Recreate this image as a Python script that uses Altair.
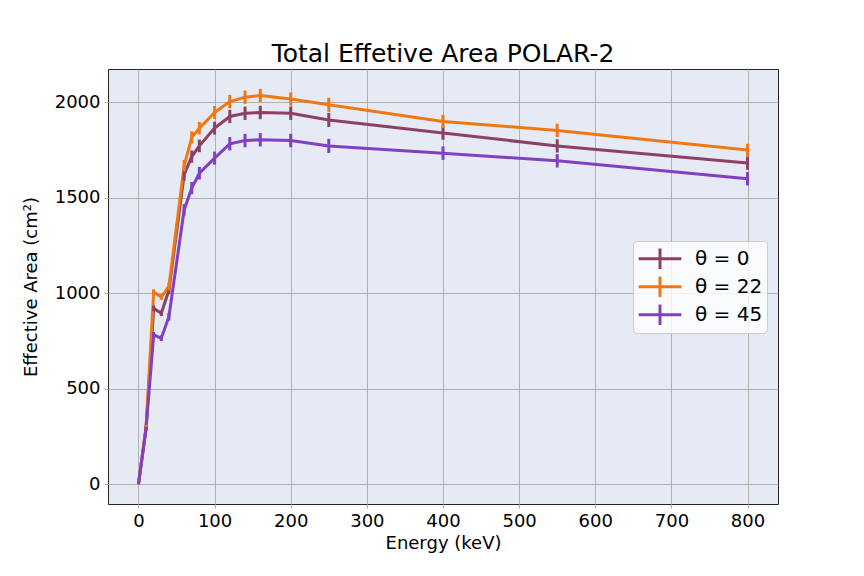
import altair as alt
import pandas as pd

energy = [0, 10, 20, 30, 40, 60, 70, 80, 100, 120, 140, 160, 200, 250, 400, 550, 800]
area_0 = [0, 295, 920, 895, 1015, 1620, 1715, 1771, 1864, 1925, 1942, 1946, 1942, 1907, 1838, 1771, 1681]
area_22 = [0, 300, 1005, 980, 1035, 1667, 1815, 1864, 1946, 2003, 2026, 2035, 2016, 1986, 1899, 1852, 1750]
area_45 = [0, 290, 782, 764, 877, 1436, 1550, 1628, 1707, 1782, 1799, 1803, 1799, 1771, 1733, 1693, 1599]
err_0 = [0, 10, 15, 15, 20, 30, 32, 33, 34, 35, 35, 35, 35, 37, 35, 35, 35]
err_22 = [0, 10, 15, 15, 20, 30, 32, 33, 34, 35, 35, 35, 35, 37, 35, 35, 32]
err_45 = [0, 10, 15, 15, 20, 30, 32, 33, 34, 35, 35, 35, 35, 37, 35, 35, 35]
labels = ["θ = 0", "θ = 22", "θ = 45"]
colors = ["#8C4164", "#F07814", "#8040C0"]

rows = []
for lab, ys, es in zip(labels, [area_0, area_22, area_45], [err_0, err_22, err_45]):
    for e, y, er in zip(energy, ys, es):
        rows.append({"energy": e, "area": y, "lo": y - er, "hi": y + er, "series": lab})
df = pd.DataFrame(rows)

FONT = "DejaVu Sans"

xscale = alt.Scale(domain=[-40, 840], nice=False, zero=False)
yscale = alt.Scale(domain=[-103.5, 2173.5], nice=False, zero=False)
color = alt.Color(
    "series:N",
    scale=alt.Scale(domain=labels, range=colors),
    legend=alt.Legend(
        title=None,
        orient="none",
        legendX=525,
        legendY=172,
        symbolType="M-1,0H1M0,-0.48V0.48",
        symbolSize=1823,
        symbolStrokeWidth=3,
        labelFontSize=20,
        labelFont=FONT,
        labelColor="black",
        labelOffset=12,
        fillColor="rgba(255,255,255,0.8)",
        strokeColor="#cccccc",
        cornerRadius=4,
        padding=4,
        clipHeight=27.5,
        rowPadding=0,
    ),
)

x = alt.X("energy:Q", scale=xscale, title="Energy (keV)",
          axis=alt.Axis(values=list(range(0, 801, 100)), format="d"))
y = alt.Y("area:Q", scale=yscale, title="Effective Area (cm²)",
          axis=alt.Axis(values=[0, 500, 1000, 1500, 2000], format="d"))

lines = alt.Chart(df).mark_line(strokeWidth=3).encode(x=x, y=y, color=color)
bars = alt.Chart(df).mark_rule(strokeWidth=3).encode(
    x=alt.X("energy:Q", scale=xscale),
    y=alt.Y("lo:Q", scale=yscale),
    y2="hi:Q",
    color=alt.Color("series:N", scale=alt.Scale(domain=labels, range=colors), legend=None),
)

chart = (
    alt.layer(lines, bars)
    .properties(
        width=670,
        height=435,
        autosize=alt.AutoSizeParams(type="none"),
        padding={"left": 100, "top": 61, "right": 70, "bottom": 50},
        title=alt.TitleParams("Total Effetive Area POLAR-2", fontSize=25, font=FONT,
                              fontWeight="normal", color="black", anchor="middle", offset=2),
        background="white",
    )
    .configure_view(fill="#E6EAF5", stroke="#222222", strokeWidth=1)
    .configure_axis(
        domain=False,
        grid=True,
        gridColor="#b0b0b0",
        gridWidth=1,
        tickColor="#b0b0b0",
        tickSize=4,
        tickWidth=1,
        labelFont=FONT,
        labelFontSize=18,
        labelColor="black",
        labelPadding=4,
        titleFont=FONT,
        titleFontSize=18,
        titleFontWeight="normal",
        titleColor="black",
    )
    .configure_axisX(titlePadding=4, labelFlush=False)
    .configure_axisY(titlePadding=14, labelFlush=False)
)

chart.save("out.html", embed_options={"renderer": "svg", "actions": False})
